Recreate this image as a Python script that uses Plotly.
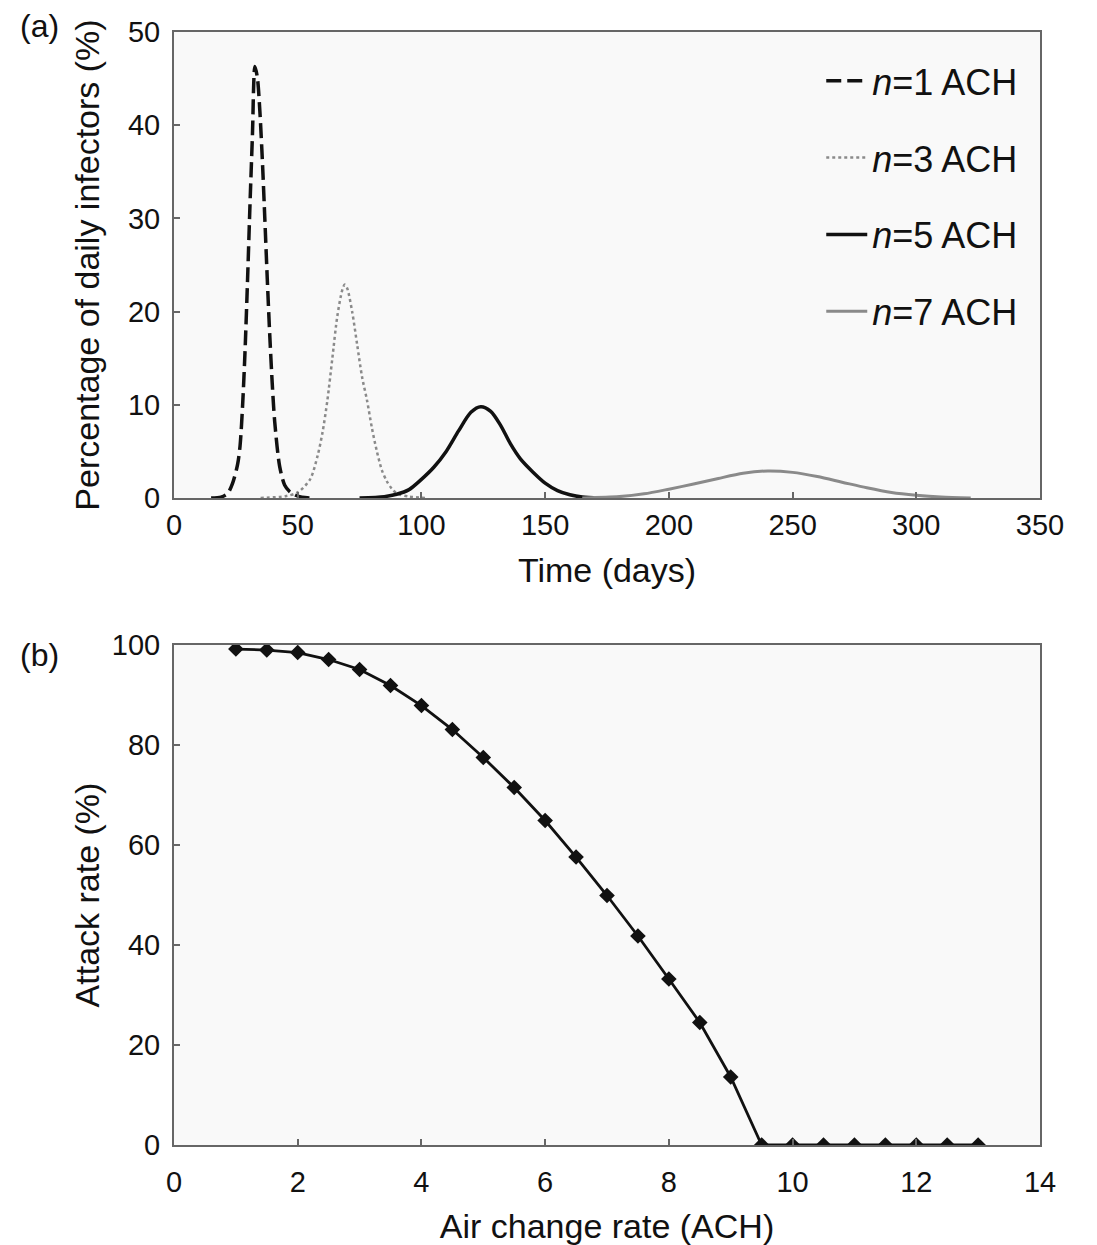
import plotly.graph_objects as go

# ---------------- Panel (a) data: daily infectors (%) vs time (days) ----------------
days_n1 = [15, 19, 21.7, 23.7, 25.7, 26.7, 27.7, 28.7, 29.7, 30.7, 31.7, 32.7, 33.7, 34.7, 35.7, 36.7,
           37.7, 38.7, 39.7, 40.7, 42.7, 44.7, 46.7, 48.7, 51.7, 56]
vals_n1 = [0, 0.1, 0.5, 1.6, 3.6, 5.6, 9.8, 15.7, 23.2, 31.4, 38.9, 46.3, 45.1, 41.5, 36.3, 30.0,
           23.5, 17.5, 12.3, 8.2, 3.4, 1.4, 0.7, 0.35, 0.08, 0]

days_n3 = [35, 45, 50, 55, 58, 60, 62, 64, 66, 68, 69, 70, 72, 74, 76, 78, 80, 82, 84, 86,
           88, 90, 95, 102]
vals_n3 = [0, 0.2, 0.6, 2.0, 4.5, 7.0, 10.5, 15.0, 19.5, 22.3, 22.9, 22.5, 20.0, 16.5, 13.0,
           10.5, 7.5, 5.0, 3.0, 1.8, 1.0, 0.5, 0.15, 0]

days_n5 = [75, 85, 90, 95, 100, 105, 110, 115, 120, 124, 128, 132, 136, 140, 145, 150, 155,
           160, 165, 172]
vals_n5 = [0, 0.15, 0.4, 0.9, 2.0, 3.3, 5.0, 7.2, 9.2, 9.8, 9.3, 7.8, 5.8, 4.2, 2.8, 1.6, 0.8,
           0.35, 0.1, 0]

days_n7 = [165, 180, 190, 200, 210, 220, 230, 240, 250, 260, 270, 280, 290, 300, 310, 322]
vals_n7 = [0, 0.15, 0.45, 0.95, 1.5, 2.1, 2.65, 2.9, 2.75, 2.3, 1.7, 1.1, 0.6, 0.3, 0.1, 0]

series_names = ["<i>n</i>=1 ACH", "<i>n</i>=3 ACH", "<i>n</i>=5 ACH", "<i>n</i>=7 ACH"]

# ---------------- Panel (b) data: attack rate (%) vs air change rate ----------------
ach = [1, 1.5, 2, 2.5, 3, 3.5, 4, 4.5, 5, 5.5, 6, 6.5, 7, 7.5, 8, 8.5, 9, 9.5,
       10, 10.5, 11, 11.5, 12, 12.5, 13]
attack = [99.2, 99.0, 98.5, 97.1, 95.1, 91.9, 87.9, 83.1, 77.5, 71.5, 64.9, 57.6, 49.9, 41.8,
          33.2, 24.5, 13.6, 0, 0, 0, 0, 0, 0, 0, 0]

FONT = "Liberation Sans, Arial, sans-serif"
FRAME = "#666666"

fig = go.Figure()

styles = [
    dict(color="#111111", width=3.5, dash="15px,6px"),
    dict(color="#8a8a8a", width=2.5, dash="dot"),
    dict(color="#111111", width=3.5, dash="solid"),
    dict(color="#8a8a8a", width=3.0, dash="solid"),
]
for i, (xs, ys) in enumerate([(days_n1, vals_n1), (days_n3, vals_n3),
                              (days_n5, vals_n5), (days_n7, vals_n7)]):
    fig.add_trace(go.Scatter(x=xs, y=ys, mode="lines", name=series_names[i],
                             line=dict(shape="spline", smoothing=0.8, **styles[i]),
                             legendgroup=str(i), xaxis="x", yaxis="y"))

fig.add_trace(go.Scatter(x=ach, y=attack, mode="lines+markers", showlegend=False,
                         line=dict(color="#111111", width=2.8),
                         marker=dict(symbol="diamond", size=12, color="#111111"),
                         xaxis="x2", yaxis="y2"))

axis_common = dict(showline=True, mirror=True, linecolor=FRAME, linewidth=2,
                   ticks="inside", ticklen=6, tickcolor=FRAME, tickwidth=1.5,
                   showgrid=False, zeroline=False, automargin=False,
                   tickfont=dict(family=FONT, size=29, color="#111111"))
TITLE_FONT = dict(family=FONT, size=34, color="#111111")

dom_a = [0.5813, 1.0]
dom_b = [0.0, 0.4492]

fig.update_layout(
    width=1097, height=1245,
    margin=dict(l=174, r=57, t=32, b=100),
    paper_bgcolor="white", plot_bgcolor="#f9f9f9",
    font=dict(family=FONT, size=29, color="#111111"),
    xaxis=dict(domain=[0, 1], anchor="y", range=[0, 350], tickvals=[0, 50, 100, 150, 200, 250, 300, 350],
               title=dict(text="Time (days)", font=TITLE_FONT, standoff=18),
               **axis_common),
    yaxis=dict(domain=dom_a, anchor="x", range=[0, 50], tickvals=[0, 10, 20, 30, 40, 50],
               title=dict(text="Percentage of daily infectors (%)", font=TITLE_FONT, standoff=18),
               ticklabelstandoff=6,
               **axis_common),
    xaxis2=dict(domain=[0, 1], anchor="y2", range=[0, 14], tickvals=list(range(0, 15, 2)),
                title=dict(text="Air change rate (ACH)", font=TITLE_FONT, standoff=18),
                ticklabelstandoff=10,
                **axis_common),
    yaxis2=dict(domain=dom_b, anchor="x2", range=[0, 100], tickvals=[0, 20, 40, 60, 80, 100],
                title=dict(text="Attack rate (%)", font=TITLE_FONT, standoff=2),
                ticklabelstandoff=6,
                **axis_common),
    legend=dict(x=0.7474, y=0.983, xanchor="left", yanchor="top",
                bgcolor="rgba(255,255,255,0)", borderwidth=0,
                font=dict(family=FONT, size=36, color="#111111"),
                traceorder="grouped", tracegroupgap=27, itemwidth=41),
    annotations=[
        dict(text="(a)", x=-0.155, y=1.005, xref="paper", yref="paper", showarrow=False,
             xanchor="center", yanchor="middle", font=dict(family=FONT, size=32)),
        dict(text="(b)", x=-0.155, y=0.4403, xref="paper", yref="paper", showarrow=False,
             xanchor="center", yanchor="middle", font=dict(family=FONT, size=32)),
    ],
)

fig.write_html("out.html")
